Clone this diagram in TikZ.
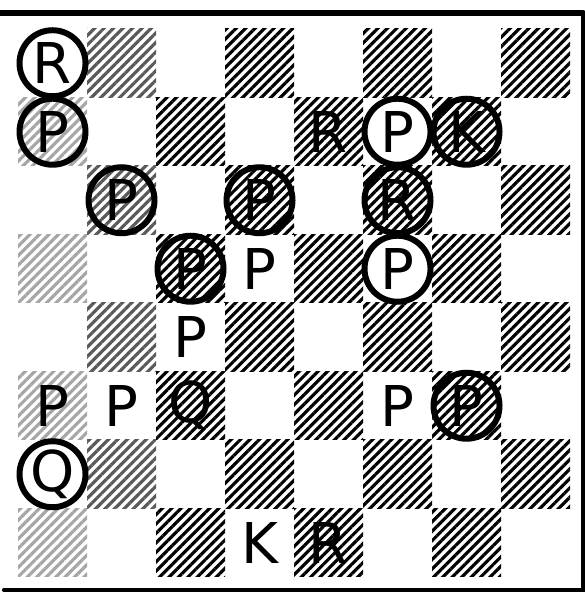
\documentclass[tikz,border=0pt]{standalone}
\usepackage{fontspec}
\setsansfont{DejaVu Sans}
\usetikzlibrary{
  patterns.meta
}

\tikzset{
  darksq/.style={pattern={Lines[angle=45, distance=1.9pt, line width=0.9pt]}, pattern color=#1},
  darksq/.default=black,
  man/.style={font=\sffamily\fontsize{16}{16}\selectfont, inner sep=0pt},
  ringed/.style={man, draw, circle, line width=1.7pt, minimum size=0.66cm},
  rim/.style={line width=#1, line cap=round}
}

\begin{document}
\begin{tikzpicture}[x=0.69cm, y=0.685cm]
\useasboundingbox (-0.261,-0.263) rectangle (8.217,8.423);

% board squares, hatched where dark
\foreach \x in {0,...,7}
  \foreach \y in {0,...,7} {
    \pgfmathtruncatemacro\s{mod(\x+\y,2)}
    \ifnum\s=0
      \ifcase\x
        \fill[darksq=black!35] (\x,\y) rectangle ++(1,1);
      \or
        \fill[darksq=black!65] (\x,\y) rectangle ++(1,1);
      \else
        \fill[darksq] (\x,\y) rectangle ++(1,1);
      \fi
    \fi
  }

% frame
\coordinate (tl) at (-0.26,8.23);
\coordinate (tr) at (8.19,8.23);
\coordinate (br) at (8.19,-0.19);
\coordinate (bl) at (-0.2,-0.19);
\draw[rim=1.8pt] (tl) -- (tr);
\draw[rim=1.3pt] (tr) -- (br) -- (bl);

% black men (ringed)
\foreach \p/\x/\y/\n in {R/0/7/a8, P/0/6/a7, P/5/6/f7, K/6/6/g7, P/1/5/b6, P/3/5/d6,
                         R/5/5/f6, P/2/4/c5, P/5/4/f5, P/6/2/g3, Q/0/1/a2}
  \node[ringed] (m\n) at (\x+0.5,\y+0.5) {\p};

% white men
\foreach \p/\x/\y/\n in {R/4/6/e7, P/3/4/d5, P/2/3/c4, P/0/2/a3, P/1/2/b3, Q/2/2/c3,
                         P/5/2/f3, K/3/0/d1, R/4/0/e1}
  \node[man] (m\n) at (\x+0.5,\y+0.5) {\p};
\end{tikzpicture}
\end{document}
